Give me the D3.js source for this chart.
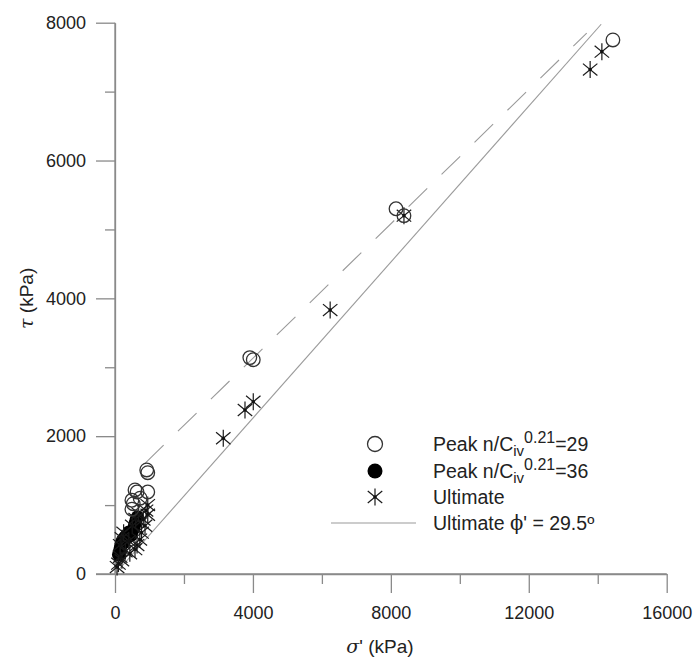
<!DOCTYPE html>
<html>
<head>
<meta charset="utf-8">
<script src="https://cdn.jsdelivr.net/npm/d3@7"></script>
<style>
  body { margin: 0; background: #fff; }
  svg { display: block; font-family: "Liberation Sans", Arial, sans-serif; }
</style>
</head>
<body>
<div id="chart"></div>
<script>
// peak strength, n/Civ^0.21 = 29  [sigma', tau]
const peak29 = [
  [14440, 7750], [8150, 5300], [8380, 5200], [3910, 3140], [4010, 3110],
  [920, 1510], [950, 1470], [580, 1220], [640, 1190], [950, 1190],
  [490, 1070], [530, 1020], [730, 1100], [490, 940]
];
// peak strength, n/Civ^0.21 = 36
const peak36 = [
  [100, 280], [130, 330], [150, 380], [180, 420], [200, 470], [230, 500],
  [260, 520], [300, 540], [330, 560], [380, 570], [420, 580], [460, 600],
  [500, 620], [530, 650], [560, 690], [580, 730], [600, 770], [620, 800],
  [650, 830], [250, 450], [350, 520], [400, 610], [470, 560], [150, 300]
];
// ultimate strength
const ultimate = [
  [14120, 7580], [13780, 7320], [8380, 5200], [6240, 3830], [4010, 2500],
  [3770, 2380], [3140, 1970],
  [950, 1000], [900, 920], [950, 860], [820, 790], [870, 700], [770, 600],
  [720, 500], [640, 420], [580, 360], [430, 300], [300, 330], [200, 200],
  [150, 250], [100, 150], [60, 100], [150, 420], [200, 520], [250, 600],
  [400, 480], [500, 700], [600, 800], [680, 880]
];
// failure envelopes
const ultimateLine = [[0, 0], [14100, 14100 * Math.tan(29.5 * Math.PI / 180)]];
const peakLine = [[870, 1606], [13680, 7850]];

const xTicks = [0, 4000, 8000, 12000, 16000];
const xMinor = [2000, 6000, 10000, 14000];
const yTicks = [0, 2000, 4000, 6000, 8000];
const yMinor = [1000, 3000, 5000, 7000];

const legendItems = [
  { type: 'open', value: '29' },
  { type: 'filled', value: '36' },
  { type: 'star', label: 'Ultimate' },
  { type: 'line', label: 'Ultimate' }
];

const W = 696, H = 657;
const svg = d3.select('#chart').append('svg').attr('width', W).attr('height', H);

const x = d3.scaleLinear().domain([0, 16000]).range([115, 666.7]);
const y = d3.scaleLinear().domain([0, 8000]).range([574, 22.7]);

const axisColor = '#8a8a8a', textColor = '#222';

// axes
const gx = svg.append('g').attr('transform', `translate(0,${y(0)})`);
gx.call(d3.axisBottom(x).tickValues(xTicks).tickSize(19).tickPadding(13).tickFormat(d3.format('d')).tickSizeOuter(0));
gx.append('g').call(d3.axisBottom(x).tickValues(xMinor).tickSize(10).tickFormat('').tickSizeOuter(0));
const gy = svg.append('g').attr('transform', `translate(${x(0)},0)`);
gy.call(d3.axisLeft(y).tickValues(yTicks).tickSize(19).tickPadding(10).tickFormat(d3.format('d')).tickSizeOuter(0));
gy.append('g').call(d3.axisLeft(y).tickValues(yMinor).tickSize(10).tickFormat('').tickSizeOuter(0));
svg.selectAll('.domain').attr('stroke', axisColor).attr('stroke-width', 1.3);
svg.selectAll('.tick line').attr('stroke', axisColor).attr('stroke-width', 1.3);
svg.selectAll('.tick text').attr('font-size', 18).attr('fill', textColor)
  .attr('font-family', '"Liberation Sans", Arial, sans-serif');
gx.select('.domain').attr('d', `M${x(0) - 19},0H${x(16000)}`);
gy.select('.domain').attr('d', `M0,${y(0)}V${y(8000)}`);

// axis titles
svg.append('text').attr('x', 380).attr('y', 653).attr('text-anchor', 'middle')
  .attr('font-size', 19).attr('fill', textColor)
  .call(t => {
    t.append('tspan').attr('font-family', '"DejaVu Serif", "Liberation Serif", serif').attr('font-style', 'italic').text('σ');
    t.append('tspan').text("' (kPa)");
  });
svg.append('text').attr('transform', `translate(33,${(y(0) + y(8000)) / 2}) rotate(-90)`)
  .attr('text-anchor', 'middle').attr('font-size', 19).attr('fill', textColor)
  .call(t => {
    t.append('tspan').attr('font-family', '"DejaVu Serif", "Liberation Serif", serif').attr('font-style', 'italic').text('τ');
    t.append('tspan').text(' (kPa)');
  });

// envelopes
const line = d3.line().x(d => x(d[0])).y(d => y(d[1]));
svg.append('path').datum(ultimateLine).attr('d', line)
  .attr('fill', 'none').attr('stroke', '#9a9a9a').attr('stroke-width', 1.1);
svg.append('path').datum(peakLine).attr('d', line)
  .attr('fill', 'none').attr('stroke', '#9a9a9a').attr('stroke-width', 1.1)
  .attr('stroke-dasharray', '26,20');

// markers
function star(g, s) {
  const w = s * 0.85, h = s * 0.7;
  g.append('line').attr('x1', 0).attr('y1', -s).attr('x2', 0).attr('y2', s);
  g.append('line').attr('x1', -w).attr('y1', -h).attr('x2', w).attr('y2', h);
  g.append('line').attr('x1', -w).attr('y1', h).attr('x2', w).attr('y2', -h);
  g.selectAll('line').attr('stroke', '#1a1a1a').attr('stroke-width', 1.2);
  g.append('circle').attr('r', 1.8).attr('fill', '#111');
}

svg.append('g').selectAll('circle').data(peak36).join('circle')
  .attr('cx', d => x(d[0])).attr('cy', d => y(d[1])).attr('r', 6.5)
  .attr('fill', '#000');

svg.append('g').selectAll('g').data(ultimate).join('g')
  .attr('transform', d => `translate(${x(d[0])},${y(d[1])})`)
  .each(function() { star(d3.select(this), 8.5); });

svg.append('g').selectAll('circle').data(peak29).join('circle')
  .attr('cx', d => x(d[0])).attr('cy', d => y(d[1])).attr('r', 6.8)
  .attr('fill', 'none').attr('stroke', '#333').attr('stroke-width', 1.3);

// legend
const rowY = [444, 471, 497, 523];
const lg = svg.append('g');
legendItems.forEach((it, i) => {
  const cy = rowY[i];
  if (it.type === 'open') {
    lg.append('circle').attr('cx', 375).attr('cy', cy).attr('r', 7.5)
      .attr('fill', 'none').attr('stroke', '#333').attr('stroke-width', 1.3);
  } else if (it.type === 'filled') {
    lg.append('circle').attr('cx', 375).attr('cy', cy).attr('r', 7.5).attr('fill', '#000');
  } else if (it.type === 'star') {
    star(lg.append('g').attr('transform', `translate(375,${cy})`), 8.5);
  } else {
    lg.append('line').attr('x1', 331).attr('x2', 416).attr('y1', cy).attr('y2', cy)
      .attr('stroke', '#9a9a9a').attr('stroke-width', 1.1);
  }
  const t = lg.append('text').attr('x', 433).attr('y', cy + 7)
    .attr('font-size', 19.5).attr('fill', textColor);
  if (it.value) {
    t.append('tspan').text('Peak n/C');
    t.append('tspan').attr('font-size', 15).attr('dy', 5).text('iv');
    t.append('tspan').attr('font-size', 16).attr('dy', -13).text('0.21');
    t.append('tspan').attr('dy', 8).text('=' + it.value);
  } else if (it.type === 'star') {
    t.text(it.label);
  } else {
    t.append('tspan').text(it.label + ' ');
    t.append('tspan').attr('font-family', '"DejaVu Serif", "Liberation Serif", serif').text('ϕ');
    t.append('tspan').text("' = 29.5º");
  }
});
</script>
</body>
</html>
